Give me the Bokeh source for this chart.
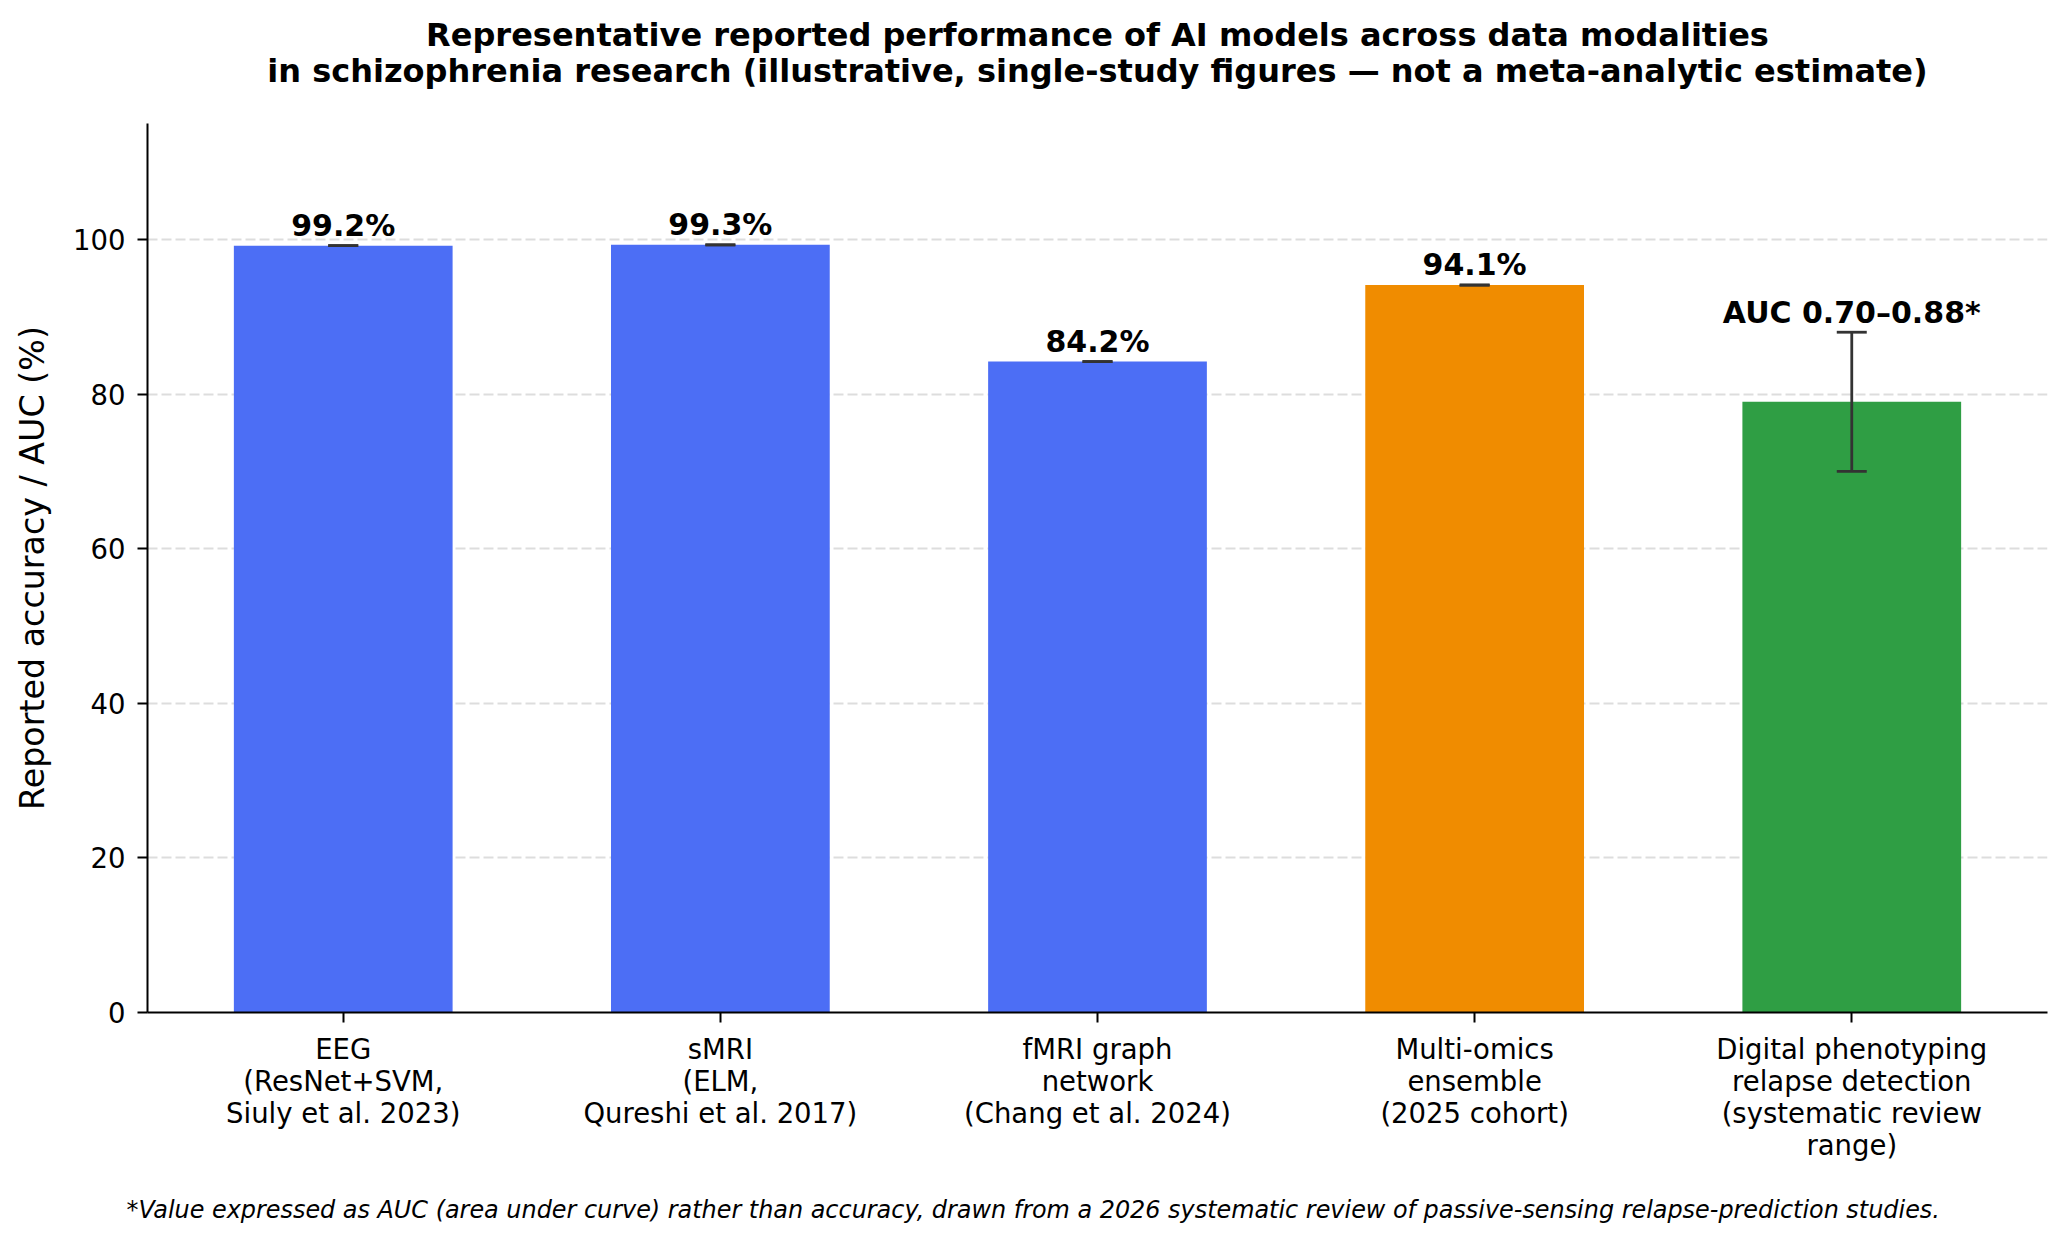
from bokeh.plotting import figure
from bokeh.models import Range1d, FixedTicker, Title, ColumnDataSource
from bokeh.core.properties import value
from bokeh.embed import file_html
from bokeh.resources import INLINE

# ---- data ----
categories = [
    "EEG\n(ResNet+SVM,\nSiuly et al. 2023)",
    "sMRI\n(ELM,\nQureshi et al. 2017)",
    "fMRI graph\nnetwork\n(Chang et al. 2024)",
    "Multi-omics\nensemble\n(2025 cohort)",
    "Digital phenotyping\nrelapse detection\n(systematic review\nrange)",
]
values = [99.2, 99.3, 84.2, 94.1, 79.0]
err_low = [0.0, 0.0, 0.0, 0.0, 9.0]
err_high = [0.0, 0.0, 0.0, 0.0, 9.0]
bar_labels = ["99.2%", "99.3%", "84.2%", "94.1%", "AUC 0.70\u20130.88*"]
colors = ["#4C6EF5", "#4C6EF5", "#4C6EF5", "#F08C00", "#2F9E44"]
y_ticks = [0, 20, 40, 60, 80, 100]

title_line1 = "Representative reported performance of AI models across data modalities"
title_line2 = "in schizophrenia research (illustrative, single-study figures \u2014 not a meta-analytic estimate)"
footnote = ("*Value expressed as AUC (area under curve) rather than accuracy, drawn from a 2026 "
            "systematic review of passive-sensing relapse-prediction studies.")

FONT = "DejaVu Sans"
xs = list(range(len(categories)))
lower = [v - e for v, e in zip(values, err_low)]
upper = [v + e for v, e in zip(values, err_high)]
label_y = [u + 2.6 for u in upper]

src = ColumnDataSource(dict(x=xs, top=values, color=colors, lower=lower, upper=upper,
                            label=bar_labels, label_y=label_y))

p = figure(width=2052, height=1237,
           x_range=Range1d(-0.519, 4.519), y_range=Range1d(0, 115),
           output_backend="svg", toolbar_location=None,
           min_border_left=147, min_border_right=5,
           min_border_top=123, min_border_bottom=225)

p.outline_line_color = None
p.background_fill_color = "white"
p.border_fill_color = "white"

# two-line title (outermost), with a blank spacer between it and the frame
p.title.text = title_line1 + "\n" + title_line2
p.title.align = "center"
p.title.text_align = "center"
p.title.text_font = FONT
p.title.text_font_style = "bold"
p.title.text_font_size = "32px"
p.title.text_color = "black"
p.title.text_line_height = 0.95
p.title.standoff = 0
p.add_layout(Title(text=" ", text_font_size="1px", standoff=30), "above")

# bars
p.vbar(x="x", top="top", bottom=0, width=0.58, fill_color="color", line_color=None, source=src)

# error bars
p.segment(x0="x", y0="lower", x1="x", y1="upper", line_color="#333333", line_width=2.8, source=src)
p.scatter(x="x", y="upper", marker="dash", size=30, line_color="#333333", line_width=2.8, source=src)
p.scatter(x="x", y="lower", marker="dash", size=30, line_color="#333333", line_width=2.8, source=src)

# value labels
p.text(x="x", y="label_y", text="label", text_align="center", text_baseline="middle",
       text_font=value(FONT), text_font_style="bold", text_font_size="30px",
       text_color="black", source=src)

# axes
for ax in (p.xaxis, p.yaxis):
    ax.axis_line_color = "black"
    ax.axis_line_width = 2
    ax.major_tick_line_color = "black"
    ax.major_tick_line_width = 2
    ax.major_tick_in = 0
    ax.major_tick_out = 10
    ax.minor_tick_line_color = None
    ax.major_label_text_font = FONT
    ax.major_label_text_font_size = "27.5px"
    ax.major_label_text_color = "black"

p.xaxis.ticker = FixedTicker(ticks=xs)
p.xaxis.major_label_overrides = {i: c for i, c in zip(xs, categories)}
p.xaxis.major_label_standoff = 10
p.xaxis.major_label_text_line_height = 1.0

p.yaxis.ticker = FixedTicker(ticks=y_ticks)
p.yaxis.major_label_standoff = 12
p.yaxis.axis_label = "Reported accuracy / AUC (%)"
p.yaxis.axis_label_text_font = FONT
p.yaxis.axis_label_text_font_size = "33.3px"
p.yaxis.axis_label_text_font_style = "normal"
p.yaxis.axis_label_text_color = "black"
p.yaxis.axis_label_standoff = 18

p.xgrid.grid_line_color = None
p.ygrid.grid_line_color = "#dddddd"
p.ygrid.grid_line_dash = "10 4"
p.ygrid.grid_line_width = 1.8

# spacer below the tick labels, then the footnote
p.add_layout(Title(text=" ", text_font_size="1px", standoff=27), "below")
p.add_layout(Title(text=footnote, align="left", text_font=FONT, text_font_style="italic",
                   text_color="black", text_font_size="23.9px", offset=-21, standoff=0), "below")

open("out.html", "w").write(file_html(p, INLINE))
